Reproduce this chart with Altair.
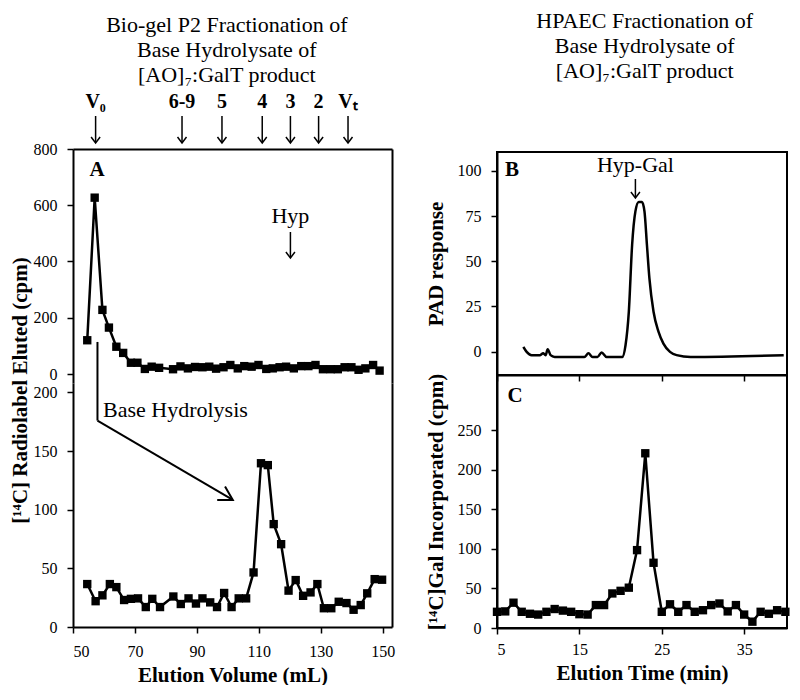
import altair as alt
import pandas as pd

FONT = "Liberation Serif"

# ---------------- data ----------------
# Panel A (top): Bio-gel P2 profile of the [AO]7:GalT product
a_top_vol = [54.6, 57.0, 59.5, 61.6, 64.0, 66.2, 68.7, 70.8, 73.2, 75.4, 77.8, 82.3, 84.7,
             87.1, 89.4, 91.8, 94.0, 96.2, 98.6, 100.8, 103.2, 105.3, 107.7, 109.9, 112.4,
             114.5, 116.7, 118.8, 121.3, 123.7, 126.0, 128.3, 130.7, 133.2, 135.5, 137.7,
             139.9, 142.2, 144.4, 146.9, 149.0]
a_top_cpm = [120, 627, 228, 165, 97, 75, 40, 40, 18, 26, 22, 17, 27,
             20, 25, 24, 26, 19, 24, 32, 20, 28, 26, 32, 18,
             20, 24, 26, 20, 28, 28, 32, 17, 17, 17, 24,
             24, 15, 20, 32, 12]
# Panel A (bottom): after base hydrolysis
a_bot_vol = [54.6, 57.3, 59.5, 61.9, 64.0, 66.5, 68.7, 71.0, 73.5, 75.6, 78.1, 82.4, 84.8,
             87.3, 89.7, 91.8, 94.3, 96.5, 98.8, 101.2, 103.5, 105.9, 108.3, 110.7, 112.9,
             114.8, 117.2, 119.6, 121.9, 124.3, 126.7, 128.9, 131.0, 133.4, 135.8, 138.3,
             140.6, 142.9, 145.0, 147.4, 149.8]
a_bot_cpm = [36.6, 22, 27, 36.6, 34, 23, 24, 24.4, 17, 24, 17, 26, 19.6,
             24.4, 20, 24.4, 21, 17, 29, 17, 24.4, 24.4, 46.5, 139.6, 138,
             87.7, 70.6, 31, 40, 26.6, 29.5, 36.6, 16, 16, 21.5, 20.4,
             14.7, 18.7, 28.7, 40.8, 40.3]
# calibration markers above panel A
marker_labels = ["V₀", "6-9", "5", "4", "3", "2", "Vₜ"]
marker_vol = [57.3, 85.2, 98.1, 111.1, 120.2, 129.3, 138.8]

# Panel B: HPAEC PAD trace
b_time = [8.2, 8.6, 9.2, 10.2, 10.6, 10.9, 11.15, 11.5, 12.0, 15.6, 16.1, 16.6, 17.2, 17.7,
          18.3, 20.2, 20.6, 21.0, 21.4, 21.8, 22.2, 22.6, 22.9, 23.2, 23.5, 24.0, 24.6,
          25.2, 26.0, 26.8, 28.5, 39.8]
b_pad = [2.6, -0.2, -2, -2, -1, -2, 1.3, -2, -3, -3, -1, -3, -3, -0.5,
         -3, -3, 3.5, 22, 59, 77.6, 82.8, 82.8, 77.6, 59, 40.5, 22, 11,
         4.4, -0.2, -2, -3, -2]

# Panel C: radiolabel of HPAEC fractions
c_time = [5, 6, 7, 8, 9, 10, 11, 12, 13, 14, 15, 16, 17, 18, 19, 20, 21, 22, 23, 24,
          25, 26, 27, 28, 29, 30, 31, 32, 33, 34, 35, 36, 37, 38, 39, 40]
c_cpm = [20.5, 21, 32, 20.5, 18, 17, 20.5, 24, 22, 20.5, 17.5, 17, 29, 29, 43.7, 47, 51,
         98.5, 221, 82.5, 20.5, 30, 20.5, 29, 20.5, 22.5, 29, 31, 21, 29, 17, 8, 20.5,
         18, 22.5, 20.5]

# ---------------- helpers ----------------
CHEV = "M -1 -0.75 L 0 0 L -1 0.75"
CHEV_WIDE = "M -1 -0.58 L 0 0 L -1 0.58"


def ax(**kw):
    base = dict(domainColor="black", domainWidth=2, tickColor="black", tickWidth=1.5,
                tickSize=6, labelFont=FONT, labelFontSize=16, labelColor="black",
                labelPadding=10, titleFont=FONT, titleFontSize=21, titleFontWeight="bold",
                titleColor="black", grid=False)
    base.update(kw)
    return alt.Axis(**base)


def txt(**kw):
    base = dict(font=FONT, color="black")
    base.update(kw)
    return base


A_X = alt.Scale(domain=[50, 153], nice=False, zero=False)
A_TOP_Y = alt.Scale(domain=[-32, 800], nice=False, zero=False)
A_BOT_Y = alt.Scale(domain=[0, 208], nice=False, zero=False)
T_X = alt.Scale(domain=[5, 40.2], nice=False, zero=False)
B_Y = alt.Scale(domain=[-13, 110.5], nice=False, zero=False)
C_Y = alt.Scale(domain=[0, 320], nice=False, zero=False)

df_top = pd.DataFrame({"vol": a_top_vol, "cpm": a_top_cpm})
df_bot = pd.DataFrame({"vol": a_bot_vol, "cpm": a_bot_cpm})
df_mk = pd.DataFrame({"vol": marker_vol, "label": marker_labels})
df_b = pd.DataFrame({"t": b_time, "pad": b_pad})
df_c = pd.DataFrame({"t": c_time, "cpm": c_cpm})

BOX = alt.ViewBackground(stroke="black", strokeWidth=2)
NOBOX = alt.ViewBackground(stroke="transparent", strokeWidth=0)

# ---------------- panel A top ----------------
x_top = alt.X("vol:Q", scale=A_X, axis=ax(orient="top", labels=False, ticks=False, title=None))
top_line = alt.Chart(df_top).mark_line(color="black", strokeWidth=2.5).encode(
    x=x_top,
    y=alt.Y("cpm:Q", scale=A_TOP_Y, axis=ax(orient="left", values=[0, 200, 400, 600, 800],
                                            title=None)))
top_pts = alt.Chart(df_top).mark_point(shape="square", filled=True, size=70, color="black", opacity=1).encode(
    x=x_top,
    y=alt.Y("cpm:Q", scale=A_TOP_Y, axis=ax(orient="right", labels=False, ticks=False, title=None)))
a_lab = alt.Chart(pd.DataFrame({"s": ["A"]})).mark_text(**txt(fontSize=21, fontWeight="bold")).encode(
    x=alt.value(24), y=alt.value(21), text="s:N")
mk_text = alt.Chart(df_mk).mark_text(**txt(fontSize=20, fontWeight="bold")).encode(
    x=x_top, y=alt.value(-47), text="label:N")
mk_rule = alt.Chart(df_mk).mark_rule(color="black", strokeWidth=1.5).encode(
    x=x_top, y=alt.value(-33), y2=alt.value(-7))
mk_head = alt.Chart(df_mk).mark_point(shape=CHEV, angle=90, size=144, filled=False, color="black",
                                      strokeWidth=1.5, opacity=1).encode(x=x_top, y=alt.value(-6))
df_hyp = pd.DataFrame({"vol": [120.2], "s": ["Hyp"]})
hyp_text = alt.Chart(df_hyp).mark_text(**txt(fontSize=22)).encode(x=x_top, y=alt.value(67), text="s:N")
hyp_rule = alt.Chart(df_hyp).mark_rule(color="black", strokeWidth=1.5).encode(
    x=x_top, y=alt.value(83), y2=alt.value(108))
hyp_head = alt.Chart(df_hyp).mark_point(shape=CHEV, angle=90, size=144, filled=False, color="black",
                                        strokeWidth=1.5, opacity=1).encode(x=x_top, y=alt.value(109))

panel_a_top = alt.layer(top_line, top_pts, a_lab, mk_text, mk_rule, mk_head,
                        hyp_text, hyp_rule, hyp_head).resolve_axis(y="independent").properties(
    width=319, height=234, view=NOBOX)

# ---------------- panel A bottom ----------------
x_bot = alt.X("vol:Q", scale=A_X, axis=ax(orient="bottom", values=[50, 70, 90, 110, 130, 150],
                                           labelPadding=10, title="Elution Volume (mL)",
                                           titlePadding=5))
bot_line = alt.Chart(df_bot).mark_line(color="black", strokeWidth=2.5).encode(
    x=x_bot,
    y=alt.Y("cpm:Q", scale=A_BOT_Y, axis=ax(orient="left", values=[0, 50, 100, 150, 200],
                                            title="[¹⁴C] Radiolabel Eluted (cpm)",
                                            titlePadding=3, titleY=7)))
bot_pts = alt.Chart(df_bot).mark_point(shape="square", filled=True, size=70, color="black", opacity=1).encode(
    x=x_bot,
    y=alt.Y("cpm:Q", scale=A_BOT_Y, axis=ax(orient="right", labels=False, ticks=False, title=None)))
bh_text = alt.Chart(pd.DataFrame({"s": ["Base Hydrolysis"]})).mark_text(
    **txt(fontSize=22, align="left")).encode(x=alt.value(30), y=alt.value(27), text="s:N")
bh_rule = alt.Chart(pd.DataFrame({"vol": [57.9], "cpm": [243], "cpm2": [176]})).mark_rule(
    color="black", strokeWidth=2).encode(
    x=x_bot, y=alt.Y("cpm:Q", scale=A_BOT_Y, axis=None), y2="cpm2:Q")
bh_line = alt.Chart(pd.DataFrame({"vol": [57.9, 101.6], "cpm": [176, 108.3]})).mark_line(
    color="black", strokeWidth=2).encode(x=x_bot, y=alt.Y("cpm:Q", scale=A_BOT_Y, axis=None))
bh_head = alt.Chart(pd.DataFrame({"vol": [101.6], "cpm": [108.3]})).mark_point(
    shape=CHEV_WIDE, angle=30, size=729, filled=False, color="black", strokeWidth=2, opacity=1).encode(
    x=x_bot, y=alt.Y("cpm:Q", scale=A_BOT_Y, axis=None))

panel_a_bot = alt.layer(bot_line, bot_pts, bh_text, bh_rule, bh_line, bh_head).resolve_axis(
    y="independent").properties(width=319, height=244, view=NOBOX)

# ---------------- panel B ----------------
spacer = alt.Chart(pd.DataFrame({"s": [""]})).mark_text(opacity=0).encode(
    x=alt.value(0), y=alt.value(0), text="s:N").properties(width=290, height=3, view=NOBOX)

x_b = alt.X("t:Q", scale=T_X, axis=ax(values=[5, 15, 25, 35], labels=False, title=None))
b_line = alt.Chart(df_b).mark_line(color="black", strokeWidth=2.5, interpolate="monotone").encode(
    x=x_b, y=alt.Y("pad:Q", scale=B_Y, axis=ax(values=[0, 25, 50, 75, 100],
                                               title="PAD response", titlePadding=11)))
b_lab = alt.Chart(pd.DataFrame({"s": ["B"]})).mark_text(**txt(fontSize=21, fontWeight="bold")).encode(
    x=alt.value(15), y=alt.value(18), text="s:N")
df_hg = pd.DataFrame({"t": [21.8], "s": ["Hyp-Gal"]})
hg_text = alt.Chart(df_hg).mark_text(**txt(fontSize=22)).encode(x=x_b, y=alt.value(13), text="s:N")
hg_rule = alt.Chart(df_hg).mark_rule(color="black", strokeWidth=1.5).encode(
    x=x_b, y=alt.value(27), y2=alt.value(45))
hg_head = alt.Chart(df_hg).mark_point(shape=CHEV, angle=90, size=144, filled=False, color="black",
                                      strokeWidth=1.5, opacity=1).encode(x=x_b, y=alt.value(46))
panel_b = alt.layer(b_line, b_lab, hg_text, hg_rule, hg_head).properties(
    width=290, height=223, view=BOX)

# ---------------- panel C ----------------
x_c = alt.X("t:Q", scale=T_X, axis=ax(values=[5, 15, 25, 35], labelPadding=7,
                                      title="Elution Time (min)", titlePadding=5))
y_c = alt.Y("cpm:Q", scale=C_Y, axis=ax(values=[0, 50, 100, 150, 200, 250],
                                        title="[¹⁴C]Gal Incorporated (cpm)", titlePadding=11))
c_line = alt.Chart(df_c).mark_line(color="black", strokeWidth=2.5).encode(x=x_c, y=y_c)
c_pts = alt.Chart(df_c).mark_point(shape="square", filled=True, size=70, color="black", opacity=1).encode(
    x=x_c, y=y_c)
c_lab = alt.Chart(pd.DataFrame({"s": ["C"]})).mark_text(**txt(fontSize=21, fontWeight="bold")).encode(
    x=alt.value(18), y=alt.value(21), text="s:N")
panel_c = alt.layer(c_line, c_pts, c_lab).properties(width=290, height=253, view=BOX)

# ---------------- layout ----------------
title_style = dict(font=FONT, fontSize=22, fontWeight="normal", color="black", lineHeight=25,
                   anchor="middle")
left = alt.vconcat(panel_a_top, panel_a_bot, spacing=0, bounds="flush",
                   title=alt.TitleParams(text=["Bio-gel P2 Fractionation of", "Base Hydrolysate  of",
                                               "[AO]₇:GalT product"], offset=5, dx=25, **title_style))
right = alt.vconcat(spacer, panel_b, panel_c, spacing=0, bounds="flush",
                    title=alt.TitleParams(text=["HPAEC Fractionation of", "Base Hydrolysate  of",
                                                "[AO]₇:GalT product"], offset=60, dx=37, **title_style))

chart = alt.hconcat(left, right, spacing=28).properties(
    padding={"left": 1, "top": 2, "right": 0, "bottom": 0}
).configure_view(stroke="transparent").configure(font=FONT)

chart.save("out.html", embed_options={"renderer": "svg", "actions": False})
